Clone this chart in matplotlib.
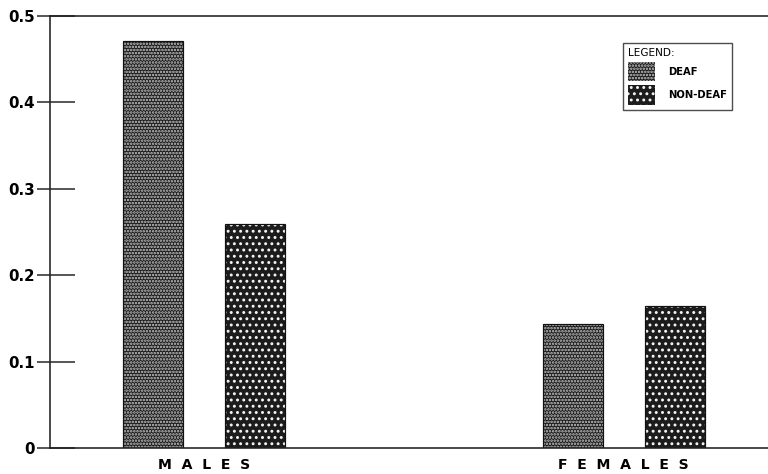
import matplotlib.pyplot as plt
from matplotlib.patches import Patch

# values
groups = ['M  A  L  E  S', 'F  E  M  A  L  E  S']
deaf = [0.471, 0.144]
non_deaf = [0.259, 0.164]
yticks = [0, 0.1, 0.2, 0.3, 0.4, 0.5]
ytick_labels = ['0', '0.1', '0.2', '0.3', '0.4', '0.5']

# dpi 75 makes the hatch tile 75 px, which gives dot spacings close to the scan
DPI = 75
def pt(px):
    # pixels -> points at this dpi
    return px * 72 / DPI

plt.rcParams['font.family'] = 'DejaVu Sans'
plt.rcParams['font.weight'] = 'bold'
plt.rcParams['hatch.linewidth'] = pt(1.7)

fig = plt.figure(figsize=(768 / DPI, 474 / DPI), dpi=DPI)
ax = fig.add_axes([50 / 768, 26 / 474, 718 / 768, 432 / 474])

x = [0, 1]
w = 0.143
off = 0.1216
dark = '#1c1c1c'
deaf_hatch, deaf_dots = '....', '#c8c8c8'
nondeaf_hatch, nondeaf_dots = '..', '#f4f4f4'

def draw_bars(pos, vals, hatch, dots):
    ax.bar(pos, vals, w, color=dark, edgecolor=dots, hatch=hatch, linewidth=0)
    ax.bar(pos, vals, w, fill=False, edgecolor='#111111', linewidth=pt(1.2))

draw_bars([p - off for p in x], deaf, deaf_hatch, deaf_dots)
draw_bars([p + off for p in x], non_deaf, nondeaf_hatch, nondeaf_dots)

ax.set_xlim(-0.367, 1.344)
ax.set_ylim(0, 0.5)

ax.spines['right'].set_visible(False)
for s in ['left', 'bottom', 'top']:
    ax.spines[s].set_linewidth(pt(1.6))
    ax.spines[s].set_color('#222222')

ax.set_yticks(yticks)
ax.set_yticklabels(ytick_labels, fontsize=pt(15), fontweight='bold')
ax.set_yticks(yticks, minor=True)
ax.yaxis.remove_overlapping_locs = False
ax.tick_params(axis='y', which='major', direction='out', length=pt(13), width=pt(1.5),
               pad=pt(2), color='#222222')
ax.tick_params(axis='y', which='minor', direction='in', length=pt(25), width=pt(1.5),
               color='#222222')

ax.set_xticks(x)
ax.set_xticklabels(groups, fontsize=pt(14), fontweight='heavy')
ax.tick_params(axis='x', length=0, pad=pt(10))

handles = [
    Patch(facecolor=dark, edgecolor=deaf_dots, hatch=deaf_hatch, linewidth=0, label='DEAF'),
    Patch(facecolor=dark, edgecolor=nondeaf_dots, hatch=nondeaf_hatch, linewidth=0, label='NON-DEAF'),
]
leg = ax.legend(handles=handles, title='LEGEND:', loc='upper left',
                bbox_to_anchor=(623 / 768, 1 - 43 / 474), bbox_transform=fig.transFigure,
                borderaxespad=0, fancybox=False, frameon=True, fontsize=pt(10),
                alignment='left', handlelength=2.7, handleheight=2.6,
                handletextpad=1.3, labelspacing=0.4, borderpad=0.5)
leg.get_title().set_fontsize(pt(10.5))
leg.get_title().set_fontweight('normal')
leg.get_frame().set_edgecolor('#222222')
leg.get_frame().set_linewidth(pt(1.4))

fig.savefig('out.png', dpi=DPI)
